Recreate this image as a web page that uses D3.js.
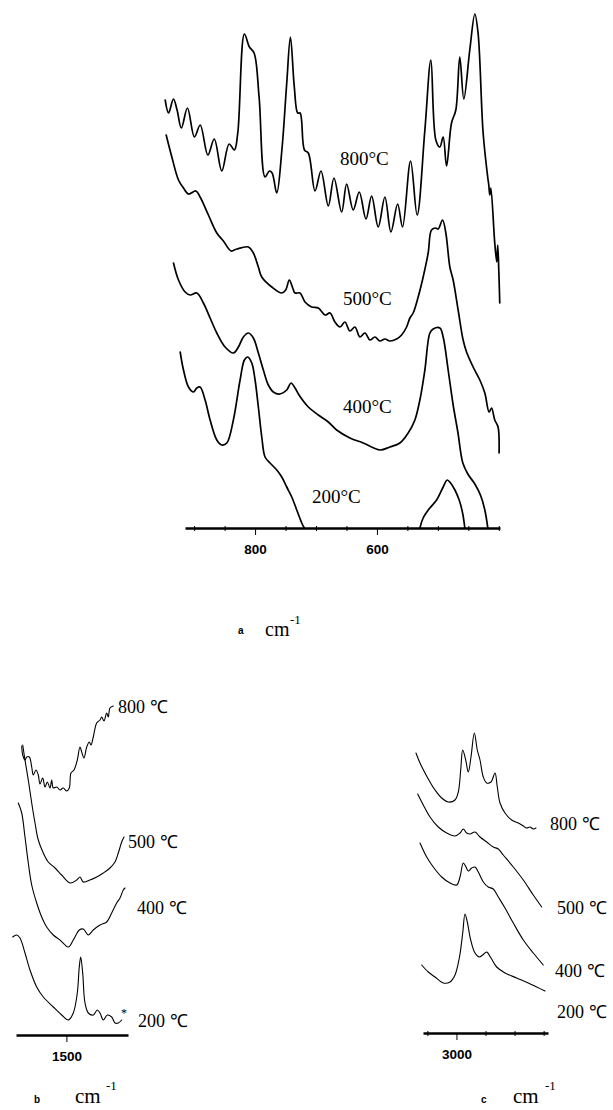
<!DOCTYPE html>
<html>
<head>
<meta charset="utf-8">
<script src="https://cdn.jsdelivr.net/npm/d3@7"></script>
<style>
  body { margin: 0; background: #fff; }
  svg { display: block; }
  .curve { fill: none; stroke: #000; stroke-linejoin: round; stroke-linecap: round; }
  .lbl { font-family: "Liberation Serif", "Times New Roman", serif; fill: #000; }
  .tick text { font-family: "Liberation Sans", Arial, sans-serif; font-weight: bold; }
</style>
</head>
<body>
<script>
// ---- data: [wavenumber (cm-1), intensity (a.u.)] ----
const temps = ["800", "500", "400", "200"];

// panel a: 950 - 400 cm-1
const a800 = [[947.5,4.28],[942,4.15],[934,4.29],[928,4.18],[921,4.00],[911,4.20],[899.5,3.91],[890,4.03],
  [877.5,3.73],[867,3.89],[854.6,3.57],[842.6,3.84],[834,3.78],[828.4,3.95],[817.5,4.94],[809.3,4.81],
  [801.6,4.75],[793.4,4.31],[783.6,3.51],[776.6,3.57],[772,3.55],[764.4,3.35],[756,3.78],[748,4.45],
  [742,4.91],[735.6,4.41],[730,4.15],[726,4.15],[719,3.78],[712.6,3.75],[701.6,3.37],[691.8,3.57],
  [679.8,3.22],[670.5,3.50],[657.9,3.16],[649.7,3.44],[638.9,3.18],[629,3.36],[618,3.09],[608.7,3.32],
  [597.9,3.01],[586.9,3.31],[577,2.96],[566,3.24],[558,3.01],[544.8,3.67],[534,3.13],[521.3,3.98],
  [511.5,4.68],[503.3,3.88],[496.7,3.81],[491.3,3.91],[485.7,3.62],[477.6,4.05],[470.5,4.18],[464,4.71],
  [457.4,4.29],[447.6,4.78],[439.3,5.14],[434,4.95],[425.7,3.95],[418,3.50],[416.4,3.43],[414.8,3.33],
  [413,3.40],[406.6,2.85],[403.3,2.66],[401.7,2.83],[400,2.58],[398.4,2.25]];
const a500 = [[945.9,3.93],[936.6,3.71],[925.7,3.48],[917.5,3.40],[909.3,3.34],[897.2,3.37],[890.2,3.31],
  [876.6,3.13],[862.8,2.95],[852,2.87],[839.3,2.77],[830,2.79],[811,2.81],[802.8,2.75],[794.6,2.61],
  [789,2.51],[772.6,2.41],[756.2,2.35],[749.7,2.38],[743.8,2.48],[738.2,2.40],[734.4,2.35],[726.2,2.35],
  [718,2.26],[707.1,2.21],[696.2,2.20],[685.2,2.13],[677,2.15],[668.9,2.06],[660.7,2.01],[652.5,2.06],
  [644.3,1.97],[636.1,2.01],[627.9,1.91],[619.7,1.95],[611.5,1.88],[603.3,1.91],[595.1,1.87],[586.9,1.89],
  [578.7,1.87],[567.7,1.89],[559.5,1.93],[551.3,2.01],[545.9,2.10],[540.5,2.15],[532.3,2.31],[524.1,2.51],
  [515.9,2.75],[510.4,2.98],[503.3,3.00],[499.5,2.99],[492.3,3.08],[486.9,2.95],[480.3,2.61],[474.9,2.48],
  [466.7,2.18],[458.5,1.88],[452.9,1.76],[442.1,1.61],[431.1,1.48],[422.9,1.35],[415.9,1.16],[411.9,1.20],
  [406.6,1.08],[401.2,1.01],[399.5,0.75]];
const a400 = [[933.9,2.65],[925.7,2.48],[914.8,2.36],[906.6,2.33],[895.6,2.35],[884.8,2.25],[873.8,2.10],
  [862.8,1.95],[849.2,1.81],[835.6,1.75],[827.4,1.81],[819.2,1.91],[811,1.95],[802.8,1.90],[794.6,1.75],
  [786.4,1.58],[778.2,1.43],[770,1.36],[759,1.34],[748,1.38],[741,1.45],[734.4,1.40],[727.9,1.33],
  [712.6,1.21],[696.2,1.13],[679.8,1.06],[666.1,0.98],[644.3,0.90],[622.5,0.85],[595.1,0.78],[578.7,0.81],
  [562.3,0.85],[548.7,0.95],[537.7,1.08],[529.5,1.28],[521.3,1.58],[513.1,1.95],[507.7,1.99],[496.7,2.00],
  [491.3,1.91],[483.1,1.58],[474.9,1.23],[467.2,0.96],[459,0.65],[450.8,0.54],[439.3,0.44],[429.5,0.32],
  [422.9,0.18],[418,0.00]];
const a200 = [[922.9,1.76],[917.5,1.58],[909.3,1.41],[901.1,1.36],[895.6,1.40],[890.2,1.41],[882,1.28],
  [873.8,1.08],[862.8,0.88],[854.6,0.83],[846.4,0.85],[835.6,1.08],[824.6,1.48],[817.5,1.68],[812,1.71],
  [805.4,1.65],[800,1.48],[794.6,1.21],[789,0.91],[783.6,0.71],[775.4,0.65],[764.4,0.58],[756.2,0.51],
  [748,0.41],[739.8,0.31],[731.6,0.18],[723.4,0.05],[719.2,0.00],
  null,
  [529.5,0.00],[524.1,0.10],[513.1,0.20],[502.1,0.28],[491.3,0.41],[484.7,0.48],[479.1,0.45],[472,0.38],
  [465,0.28],[459.4,0.15],[455.7,0.00]];

// panel b: 1700 - 1290 cm-1
const b800 = [[1659.6,2.89],[1656,2.80],[1647.9,2.75],[1641.8,2.78],[1632.5,2.78],[1623.9,2.68],[1618.2,2.60],
  [1608.6,2.65],[1600.4,2.60],[1594.3,2.51],[1584.7,2.57],[1576.4,2.48],[1568.2,2.53],[1558.6,2.47],
  [1552.5,2.55],[1546.8,2.47],[1534.7,2.48],[1522.9,2.45],[1511.1,2.47],[1498.9,2.44],[1489.7,2.47],
  [1483.6,2.62],[1472.9,2.65],[1461.1,2.75],[1451.5,2.88],[1445.4,2.83],[1437.2,2.77],[1427.5,2.88],
  [1418.2,2.93],[1412.2,2.90],[1404,2.98],[1391.8,3.12],[1380,3.15],[1374,3.18],[1365.8,3.14],
  [1356.1,3.22],[1350.4,3.18],[1344.3,3.27],[1332.5,3.29]];
const b500 = [[1656,2.90],[1647.9,2.75],[1636.1,2.55],[1623.9,2.32],[1612.1,2.12],[1600.4,1.95],[1582.5,1.82],
  [1564.7,1.73],[1540.7,1.67],[1516.8,1.60],[1487.2,1.52],[1463.2,1.55],[1451.5,1.58],[1439.7,1.53],
  [1415.7,1.55],[1391.8,1.58],[1368.2,1.62],[1344.3,1.67],[1326.5,1.73],[1314.7,1.82],[1302.5,1.93],
  [1294.3,1.98]];
const b400 = [[1671.8,2.32],[1659.6,2.22],[1647.9,1.98],[1636.1,1.72],[1623.9,1.50],[1606.1,1.32],[1588.2,1.18],
  [1570.4,1.08],[1546.8,1.00],[1522.9,0.95],[1493.2,0.88],[1475.4,0.95],[1453.9,1.05],[1439.7,1.06],
  [1421.8,1.00],[1404,1.05],[1380,1.10],[1356.1,1.13],[1338.3,1.22],[1320.4,1.32],[1308.6,1.37],
  [1296.8,1.45],[1290.8,1.47]];
const b200 = [[1691.8,0.98],[1677.5,1.00],[1665.7,0.97],[1647.9,0.82],[1630,0.65],[1606.1,0.48],[1582.5,0.38],
  [1546.8,0.28],[1516.8,0.20],[1493.2,0.15],[1475.4,0.22],[1461.1,0.42],[1454,0.68],[1448.9,0.78],
  [1441.8,0.62],[1433.6,0.32],[1421.8,0.22],[1404,0.20],[1389.7,0.25],[1380,0.22],[1368.2,0.15],
  [1354,0.20],[1338.3,0.18],[1326.5,0.12],[1314.7,0.12],[1302.5,0.15]];

// panel c: 3140 - 2690 cm-1
const c800 = [[3139.1,2.80],[3125.3,2.70],[3108.1,2.60],[3090.9,2.51],[3073.7,2.43],[3050.7,2.35],[3028,2.31],
  [3004.9,2.33],[2993.6,2.41],[2985.3,2.63],[2978.4,2.83],[2968.1,2.73],[2959.2,2.61],[2949.9,2.76],
  [2938.5,3.00],[2928.2,2.83],[2918.9,2.73],[2907.6,2.56],[2895.9,2.50],[2881.1,2.51],[2867.3,2.60],
  [2859.4,2.46],[2850.1,2.30],[2832.9,2.20],[2809.9,2.13],[2787.2,2.10],[2770,2.07],[2758.3,2.05],
  [2746.9,2.06],[2735.6,2.04],[2726.3,2.05]];
const c500 = [[3133.2,2.39],[3114,2.28],[3090.9,2.16],[3062.4,2.06],[3033.5,2.00],[3004.9,1.97],[2987.7,2.00],
  [2976.4,2.04],[2964.7,2.00],[2953.3,1.99],[2936.1,2.01],[2918.9,1.96],[2895.9,1.91],[2873.2,1.86],
  [2856,1.84],[2838.8,1.78],[2804.4,1.66],[2770,1.53],[2735.6,1.38],[2706.7,1.26]];
const c400 = [[3125.3,1.90],[3102.3,1.76],[3079.6,1.66],[3050.7,1.56],[3022.1,1.50],[2999.1,1.48],[2987.7,1.56],
  [2976.4,1.70],[2967.1,1.66],[2959.2,1.62],[2947.5,1.65],[2936.1,1.66],[2924.8,1.61],[2907.6,1.51],
  [2890.4,1.46],[2873.2,1.44],[2856,1.36],[2832.9,1.25],[2804.4,1.10],[2770,0.93],[2735.6,0.80],
  [2701.2,0.68]];
const c200 = [[3119.5,0.68],[3096.8,0.61],[3073.7,0.56],[3045.2,0.50],[3022.1,0.51],[3004.9,0.58],[2990.1,0.75],
  [2978.4,1.00],[2970.5,1.19],[2962.6,1.11],[2950.9,0.93],[2936.1,0.80],[2921.3,0.76],[2909.6,0.78],
  [2895.9,0.81],[2881.1,0.75],[2861.5,0.66],[2832.9,0.60],[2792.7,0.55],[2752.8,0.50],[2723.9,0.46],
  [2695.3,0.42]];

// axis ticks
const aMajor = [800, 600];
const aMinor = [900, 850, 750, 700, 650, 550, 500, 450, 400];
const bMajor = [1500];
const cMajor = [3000];
const cMinor = [3100, 2900, 2800, 2700];

// ---- layout ----
const W = 613, H = 1110;
const svg = d3.select("body").append("svg").attr("width", W).attr("height", H);

const panels = [
  { key: "a", series: [a800, a500, a400, a200], domain: [915, 398], range: [185, 500], base: 528,
    yTop: 0, major: aMajor, minor: aMinor, stroke: 1.7, axisW: 2.6,
    labels: [[340, 165], [343, 305], [343, 413], [312, 503]], lblSize: 19, sep: "",
    cap: { letter: [238, 634], cm: [265, 636], sup: [290, 624], cmSize: 20 } },
  { key: "b", series: [b800, b500, b400, b200], domain: [1680, 1280], range: [16, 128], base: 1035,
    yTop: 735, major: bMajor, minor: [], stroke: 1.1, axisW: 2.6,
    labels: [[118, 713], [128, 848], [137, 914], [138, 1027]], lblSize: 18, sep: " ",
    cap: { letter: [34, 1103], cm: [75, 1103], sup: [106, 1090], cmSize: 21 } },
  { key: "c", series: [c800, c500, c400, c200], domain: [3115, 2685], range: [423, 548], base: 1033,
    yTop: 733, major: cMajor, minor: cMinor, stroke: 1.1, axisW: 2.6,
    labels: [[550, 830], [557, 914], [555, 977], [557, 1018]], lblSize: 18, sep: " ",
    cap: { letter: [481, 1103], cm: [513, 1103], sup: [545, 1090], cmSize: 21 } }
];

panels.forEach(p => {
  const x = d3.scaleLinear().domain(p.domain).range(p.range);
  const yScale = p.key === "a"
    ? d3.scaleLinear().domain([0, 5.28]).range([p.base, 0])
    : d3.scaleLinear().domain([0, 3]).range([p.base, p.yTop]);

  const line = d3.line()
    .defined(d => d !== null)
    .x(d => x(d[0]))
    .y(d => yScale(d[1]))
    .curve(d3.curveCatmullRom.alpha(0.5));

  const g = svg.append("g").attr("class", "panel-" + p.key);

  g.selectAll("path.curve")
    .data(p.series)
    .enter().append("path")
    .attr("class", "curve")
    .attr("stroke-width", p.stroke)
    .attr("d", line);

  // minor ticks (short, no labels)
  if (p.minor.length) {
    g.append("g")
      .attr("transform", `translate(0,${p.base})`)
      .call(d3.axisBottom(x).tickValues(p.minor).tickSize(3).tickFormat(""))
      .call(s => s.select(".domain").remove())
      .selectAll("line").attr("stroke-width", 1).attr("y1", -2);
  }

  // main axis
  const ax = g.append("g")
    .attr("transform", `translate(0,${p.base})`)
    .call(d3.axisBottom(x).tickValues(p.major).tickSize(7).tickSizeOuter(0).tickPadding(9)
      .tickFormat(d3.format("d")));
  ax.select(".domain").attr("stroke-width", p.axisW);
  ax.selectAll(".tick line").attr("stroke-width", 1);
  ax.selectAll(".tick text").attr("font-size", 13.5).attr("fill", "#000");

  // temperature labels
  g.selectAll("text.temp")
    .data(temps)
    .enter().append("text")
    .attr("class", "lbl temp")
    .attr("x", (d, i) => p.labels[i][0])
    .attr("y", (d, i) => p.labels[i][1])
    .attr("font-size", p.lblSize)
    .text(d => p.key === "a" ? d + "°C" : d + p.sep + "℃");

  // caption
  g.append("text")
    .attr("x", p.cap.letter[0]).attr("y", p.cap.letter[1])
    .attr("font-family", "Liberation Sans, Arial, sans-serif")
    .attr("font-weight", "bold").attr("font-size", 10)
    .text(p.key);
  g.append("text").attr("class", "lbl")
    .attr("x", p.cap.cm[0]).attr("y", p.cap.cm[1])
    .attr("font-size", p.cap.cmSize)
    .text("cm");
  g.append("text").attr("class", "lbl")
    .attr("x", p.cap.sup[0]).attr("y", p.cap.sup[1])
    .attr("font-size", 13)
    .text("-1");
});

// small marker after the 200 C trace in panel b
svg.append("text").attr("class", "lbl")
  .attr("x", 121).attr("y", 1017)
  .attr("font-size", 12)
  .text("*");
</script>
</body>
</html>
